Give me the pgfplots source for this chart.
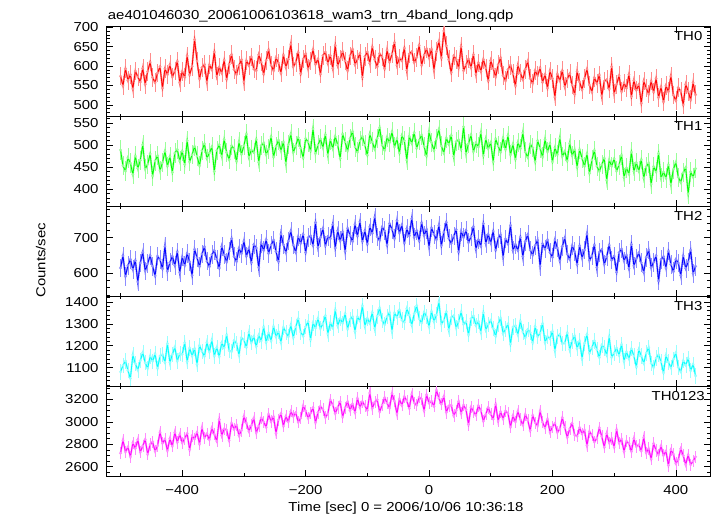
\documentclass[border=0pt]{standalone}
\usepackage{fontspec}
\setmainfont{Liberation Sans}[FakeStretch=1.15]
\usepackage{pgfplots}
\usepackage{pgfplotstable}
\pgfplotsset{compat=1.18}

\pgfplotstableread{
t a b c d e
-500 574 489 615 1080 2720
-496 549 453 649 1110 2836
-492 593 441 592 1130 2732
-488 563 471 622 1087 2776
-484 578 459 639 1050 2688
-480 541 433 611 1158 2812
-476 587 475 636 1118 2762
-472 572 447 576 1089 2840
-468 559 465 629 1131 2730
-464 594 501 659 1168 2784
-460 553 446 607 1122 2843
-456 586 456 627 1096 2711
-452 610 480 650 1152 2799
-448 570 430 620 1129 2821
-444 557 464 593 1162 2738
-440 582 476 648 1097 2786
-436 598 442 638 1153 2907
-432 543 460 613 1160 2808
-428 593 486 676 1124 2846
-424 578 452 606 1209 2742
-420 603 474 630 1123 2850
-416 572 438 648 1160 2784
-412 587 482 622 1193 2905
-408 612 490 660 1130 2817
-404 557 464 602 1163 2888
-400 586 486 646 1160 2813
-396 571 456 622 1213 2852
-392 626 510 656 1127 2896
-388 577 462 632 1189 2752
-384 599 478 594 1153 2874
-380 668 497 667 1187 2846
-376 613 475 644 1115 2906
-372 567 453 619 1201 2802
-368 596 487 654 1174 2944
-364 604 503 674 1151 2856
-360 559 470 634 1215 2894
-356 603 482 619 1172 2840
-352 590 496 652 1225 2944
-348 636 440 664 1153 2889
-344 574 488 639 1192 2828
-340 597 501 615 1150 3021
-336 582 475 675 1213 2877
-332 615 513 652 1190 2938
-328 566 483 632 1249 2927
-324 604 467 662 1177 2833
-320 629 499 697 1173 2988
-316 591 491 647 1223 2933
-312 578 463 633 1210 2971
-308 602 507 670 1157 2878
-304 616 479 655 1236 2922
-300 559 499 690 1226 3048
-296 614 525 648 1193 2988
-292 601 473 670 1259 2916
-288 623 489 630 1213 2966
-284 592 483 680 1242 3032
-280 588 513 671 1196 2902
-276 629 461 616 1248 2962
-272 610 499 684 1222 3034
-268 579 505 664 1285 3000
-264 614 479 694 1216 2951
-260 641 491 656 1258 3068
-256 602 519 679 1222 3002
-252 588 473 693 1288 3046
-248 621 497 661 1241 2898
-244 608 511 633 1264 3019
-240 582 487 710 1215 3072
-236 628 507 680 1284 2962
-232 597 459 658 1261 3050
-228 617 501 690 1241 3000
-224 656 525 718 1294 3094
-220 598 483 679 1237 3048
-216 609 499 659 1286 3081
-212 635 517 702 1323 2998
-208 580 493 684 1263 3032
-204 618 471 709 1243 3142
-200 631 515 658 1287 3098
-196 593 507 700 1310 3032
-192 613 487 705 1228 3076
-188 642 537 678 1304 3125
-184 604 481 742 1281 2993
-180 618 500 673 1324 3083
-176 579 514 700 1278 3138
-172 627 494 725 1301 3110
-168 636 524 677 1337 3039
-164 607 478 703 1254 3072
-160 627 512 697 1304 3195
-156 594 492 737 1281 3151
-152 653 520 671 1363 3074
-148 601 500 719 1291 3129
-144 618 470 691 1324 3178
-140 637 525 716 1303 3043
-136 613 507 662 1346 3125
-132 588 487 726 1277 3181
-128 626 515 706 1320 3103
-124 643 531 689 1333 3159
-120 604 496 737 1266 3083
-116 617 484 704 1332 3209
-112 632 510 744 1313 3127
-108 571 520 689 1382 3181
-104 624 500 719 1290 3143
-100 636 477 682 1325 3103
-96 607 525 730 1302 3257
-92 649 507 712 1352 3120
-88 616 491 757 1279 3175
-84 598 515 702 1335 3197
-80 632 540 692 1372 3089
-76 623 500 729 1316 3150
-72 593 488 719 1296 3216
-68 641 518 679 1333 3167
-64 610 506 739 1352 3123
-60 631 530 723 1267 3251
-56 660 496 697 1350 3185
-52 602 514 747 1330 3070
-48 620 482 713 1363 3202
-44 613 522 735 1317 3147
-40 646 510 685 1307 3225
-36 589 466 725 1370 3186
-32 631 520 705 1340 3120
-28 637 504 753 1294 3247
-24 609 528 701 1346 3169
-20 622 493 719 1383 3148
-16 653 511 691 1323 3219
-12 602 523 741 1304 3203
-8 628 497 706 1353 3099
-4 644 475 723 1333 3241
0 621 530 674 1287 3167
4 643 506 727 1357 3183
8 590 488 709 1311 3139
12 637 514 694 1340 3282
16 663 536 734 1400 3211
20 621 498 677 1299 3158
24 690 482 715 1316 3225
28 652 516 743 1355 3084
32 616 502 697 1273 3141
36 583 522 683 1329 3148
40 626 474 704 1337 3055
44 617 508 722 1281 3099
48 595 512 660 1311 3182
52 650 490 717 1354 3077
56 588 542 700 1298 3149
60 603 481 720 1310 3108
64 618 503 686 1250 2976
68 596 523 703 1323 3130
72 629 485 730 1336 3092
76 579 505 668 1293 3059
80 608 496 694 1311 3144
84 586 528 676 1262 3100
88 617 476 739 1351 3006
92 595 514 684 1272 3067
96 562 492 709 1298 3128
100 614 506 685 1316 3068
104 594 462 718 1279 3024
108 572 514 665 1243 3156
112 603 498 698 1299 3007
116 621 484 708 1326 3090
120 575 516 646 1256 3026
124 562 490 696 1276 3097
128 591 522 682 1299 3075
132 602 478 734 1207 2954
136 580 502 664 1286 3053
140 549 468 681 1292 3000
144 602 506 664 1250 3094
148 582 492 701 1312 3022
152 565 528 647 1263 2972
156 591 484 689 1236 3066
160 612 472 708 1274 3014
164 568 502 665 1261 2921
168 555 494 651 1214 3058
172 588 462 678 1287 2992
176 575 510 693 1241 2965
180 595 493 620 1258 3095
184 558 473 683 1301 2996
188 578 513 668 1216 2946
192 543 485 693 1242 3024
196 587 503 658 1232 2908
200 568 462 645 1265 2955
204 520 494 693 1179 2987
208 579 478 671 1242 2905
212 562 516 635 1252 2938
216 588 474 675 1209 3037
220 547 486 699 1212 2949
224 567 464 654 1258 2861
228 580 504 639 1182 2937
232 551 476 677 1222 2987
236 527 490 661 1245 2883
240 586 450 625 1188 2871
244 559 490 677 1221 2948
248 539 470 643 1142 2893
252 568 452 665 1211 2926
256 592 480 710 1251 2789
260 551 436 636 1166 2914
264 533 466 649 1192 2881
268 570 488 679 1222 2820
272 555 452 616 1182 2854
276 577 440 659 1146 2947
280 523 456 667 1203 2868
284 561 470 625 1190 2774
288 565 420 647 1157 2896
292 541 466 679 1240 2813
296 598 452 637 1147 2852
300 529 469 648 1166 2774
304 553 441 603 1189 2928
308 575 455 658 1156 2812
312 534 477 668 1206 2846
316 556 427 635 1130 2736
320 543 448 651 1172 2828
324 578 434 614 1140 2806
328 521 484 681 1186 2735
332 563 440 621 1153 2850
336 538 460 641 1103 2779
340 552 441 657 1182 2795
344 504 467 630 1153 2740
348 561 425 603 1120 2861
352 543 451 645 1166 2724
356 528 459 665 1192 2762
360 561 411 616 1120 2668
364 533 451 631 1100 2806
368 568 439 649 1143 2745
372 519 481 579 1159 2706
376 546 425 639 1126 2784
380 508 439 647 1076 2700
384 549 425 615 1155 2739
388 534 455 662 1125 2612
392 574 411 625 1099 2750
396 525 445 605 1138 2712
400 511 461 639 1167 2628
404 544 427 629 1101 2662
408 535 415 594 1081 2760
412 500 437 649 1131 2700
416 553 449 614 1111 2618
420 535 389 632 1142 2705
424 513 439 665 1086 2617
428 557 427 600 1115 2650
432 526 447 620 1062 2688
}\lc

\definecolor{cR}{rgb}{1,0,0}
\definecolor{lR}{rgb}{1,0.55,0.55}
\definecolor{cG}{rgb}{0,1,0}
\definecolor{lG}{rgb}{0.6,1,0.6}
\definecolor{cB}{rgb}{0,0,1}
\definecolor{lB}{rgb}{0.55,0.55,1}
\definecolor{cC}{rgb}{0,1,1}
\definecolor{lC}{rgb}{0.6,1,1}
\definecolor{cM}{rgb}{1,0,1}
\definecolor{lM}{rgb}{1,0.55,1}

\newcommand{\lab}{\fontsize{13}{15}\selectfont}

\pgfplotsset{
  panel/.style={
    scale only axis, width=603.3pt, height=89.86pt,
    anchor=south west,
    xmin=-522.4, xmax=455.4,
    xtick={-400,-200,0,200,400},
    minor xtick={-500,-300,-100,100,300},
    xticklabels={},
    tick align=inside, tick pos=both,
    major tick length=6pt, minor tick length=3pt,
    every tick/.append style={black, line width=0.6pt},
    axis line style={black, line width=0.9pt},
    tick label style={font=\lab},
    yticklabel style={inner sep=0pt, xshift=-8pt},
    /pgf/number format/assume math mode=true,
    /pgf/number format/1000 sep={},
  },
  ebar/.style 2 args={color=#2, line width=1.8pt, mark=*, mark size=0.3pt,
    mark options={draw=#2, fill=#2}, forget plot,
    error bars/.cd, y dir=both, y fixed=#1, error mark=none},
  dline/.style={#1, line width=0.8pt, mark=none},
}

\begin{document}
\begin{tikzpicture}
\useasboundingbox (0pt,0pt) rectangle (717pt,516pt);

\begin{axis}[panel, at={(106.7pt,399.44pt)}, ymin=470, ymax=701,
  ytick={500,550,600,650,700}, minor ytick={470,480,...,700}]
\addplot[ebar={24}{lR}] table[x=t,y=a]{\lc};
\addplot[dline=cR] table[x=t,y=a]{\lc};
\node[anchor=north east, inner sep=0pt, font=\lab, xshift=-7.5pt, yshift=-5pt] at (rel axis cs:1,1) {TH0};
\end{axis}

\begin{axis}[panel, at={(106.7pt,309.58pt)}, ymin=360.5, ymax=565,
  ytick={400,450,500,550}, minor ytick={370,380,...,560}]
\addplot[ebar={22}{lG}] table[x=t,y=b]{\lc};
\addplot[dline=cG] table[x=t,y=b]{\lc};
\node[anchor=north east, inner sep=0pt, font=\lab, xshift=-7.5pt, yshift=-5pt] at (rel axis cs:1,1) {TH1};
\end{axis}

\begin{axis}[panel, at={(106.7pt,219.72pt)}, ymin=536, ymax=787,
  ytick={600,700}, minor ytick={540,560,...,780}]
\addplot[ebar={26}{lB}] table[x=t,y=c]{\lc};
\addplot[dline=cB] table[x=t,y=c]{\lc};
\node[anchor=north east, inner sep=0pt, font=\lab, xshift=-7.5pt, yshift=-5pt] at (rel axis cs:1,1) {TH2};
\end{axis}

\begin{axis}[panel, at={(106.7pt,129.86pt)}, ymin=1015, ymax=1426,
  ytick={1100,1200,1300,1400}, minor ytick={1020,1040,...,1420}]
\addplot[ebar={35}{lC}] table[x=t,y=d]{\lc};
\addplot[dline=cC] table[x=t,y=d]{\lc};
\node[anchor=north east, inner sep=0pt, font=\lab, xshift=-7.5pt, yshift=-5pt] at (rel axis cs:1,1) {TH3};
\end{axis}

\begin{axis}[panel, at={(106.7pt,40pt)}, ymin=2517, ymax=3318,
  ytick={2600,2800,3000,3200}, minor ytick={2550,2600,...,3300},
  xticklabels={−400,−200,0,200,400},
  xticklabel style={inner sep=0pt, yshift=-9.5pt}]
\addplot[ebar={55}{lM}] table[x=t,y=e]{\lc};
\addplot[dline=cM] table[x=t,y=e]{\lc};
\node[anchor=north east, inner sep=0pt, font=\lab, xshift=-5pt, yshift=-5pt] at (rel axis cs:1,1) {TH0123};
\end{axis}

\node[anchor=base west, inner sep=0pt, font=\lab] at (107.7pt,496.5pt) {ae401046030\_20061006103618\_wam3\_trn\_4band\_long.qdp};
\node[anchor=base, inner sep=0pt, font=\lab] at (406pt,4pt) {Time [sec] 0 = 2006/10/06 10:36:18};
\node[rotate=90, inner sep=0pt, font=\lab] at (40.7pt,255.7pt) {Counts/sec};
\end{tikzpicture}
\end{document}
